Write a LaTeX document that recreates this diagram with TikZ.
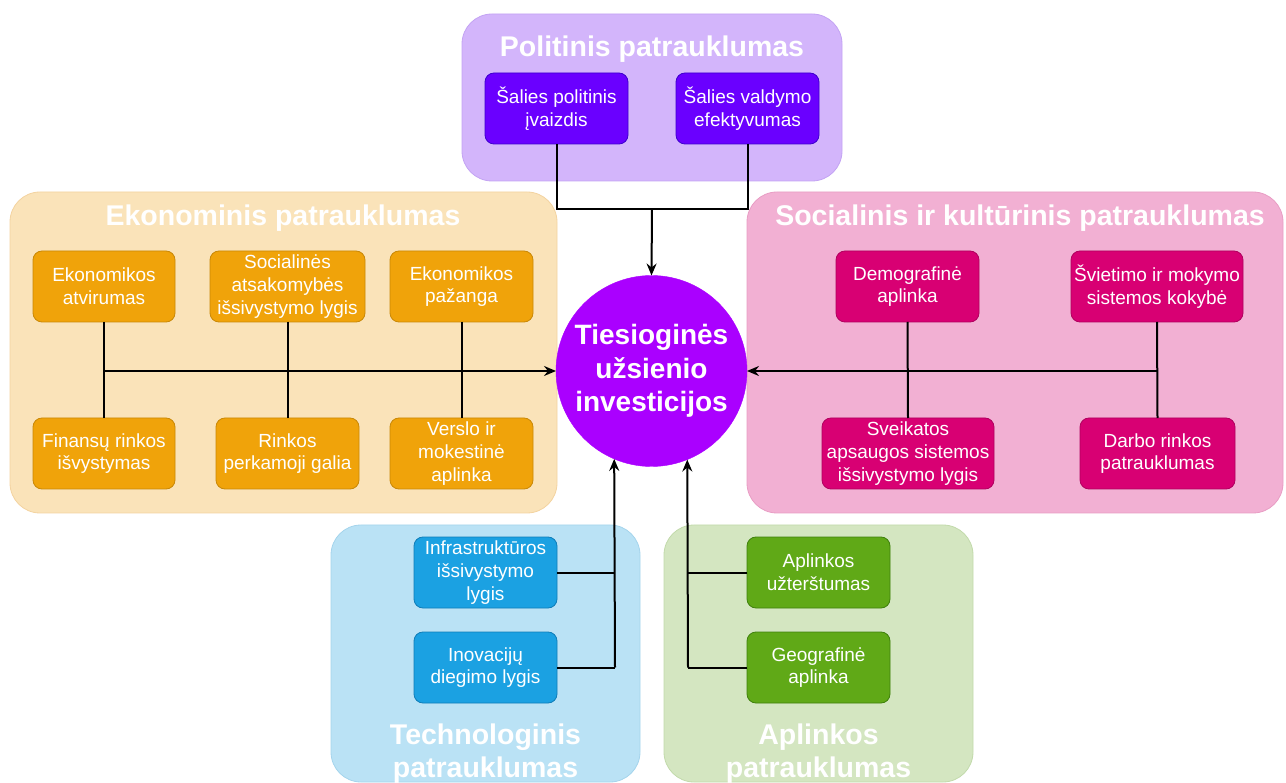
\documentclass[tikz,border=0pt]{standalone}
\usepackage{fontspec}
\setmainfont{Liberation Sans}
\usetikzlibrary{arrows.meta}
\definecolor{purC}{HTML}{D3B5FB}
\definecolor{purCd}{HTML}{C3A3F3}
\definecolor{purB}{HTML}{6A00FF}
\definecolor{purBd}{HTML}{3D00CC}
\definecolor{orC}{HTML}{FAE3B9}
\definecolor{orCd}{HTML}{F3D3A0}
\definecolor{orB}{HTML}{F0A30A}
\definecolor{orBd}{HTML}{C98806}
\definecolor{piC}{HTML}{F2B0D3}
\definecolor{piCd}{HTML}{E89DC4}
\definecolor{piB}{HTML}{D80073}
\definecolor{piBd}{HTML}{B0005E}
\definecolor{blC}{HTML}{BAE2F5}
\definecolor{blCd}{HTML}{A4D4EC}
\definecolor{blB}{HTML}{1BA1E2}
\definecolor{blBd}{HTML}{0F7DB8}
\definecolor{grC}{HTML}{D4E6C1}
\definecolor{grCd}{HTML}{C2DAAB}
\definecolor{grB}{HTML}{60A917}
\definecolor{grBd}{HTML}{3F800C}
\definecolor{circC}{HTML}{AA00FF}
\tikzset{
  container/.style={rounded corners=30pt, line width=0.8pt},
  ctitle/.style={text=white, font=\fontsize{28.5}{34}\selectfont\bfseries, inner sep=0pt, outer sep=0pt, align=center},
  sbox/.style={rectangle, rounded corners=9pt, minimum height=71pt, text=white, align=center,
    font=\fontsize{19}{22.8}\selectfont, inner sep=1pt, outer sep=0pt, line width=0.8pt},
  conn/.style={line width=2pt, black},
  arr/.style={conn, -{Stealth[length=12pt,width=10pt,inset=4pt]}}
}
\begin{document}
\begin{tikzpicture}[x=1pt,y=-1pt]
\useasboundingbox (0,0) rectangle (1286,783);
\clip (0,0) rectangle (1286,783);
% containers
\path[container, fill=purC, draw=purCd] (462,14) rectangle (842,181);
\path[container, fill=orC, draw=orCd] (10,192) rectangle (557,513);
\path[container, fill=piC, draw=piCd] (747,192) rectangle (1283,513);
\path[container, fill=blC, draw=blCd] (331,525) rectangle (640,782);
\path[container, fill=grC, draw=grCd] (664,525) rectangle (973,782);
% container titles
\node[ctitle, anchor=base] (tpol) at (652,57) {Politinis patrauklumas};
\node[ctitle, anchor=base] (teko) at (283,226) {Ekonominis patrauklumas};
\node[ctitle, anchor=base] (tsoc) at (1020,226) {Socialinis ir kultūrinis patrauklumas};
\node[ctitle, anchor=base] (ttec1) at (485.5,744) {Technologinis};
\node[ctitle, anchor=base] (ttec2) at (485.5,777) {patrauklumas};
\node[ctitle, anchor=base] (tapl1) at (818.5,744) {Aplinkos};
\node[ctitle, anchor=base] (tapl2) at (818.5,777) {patrauklumas};
% center circle
\node[circle, fill=circC, draw=circC, minimum size=191pt, inner sep=0pt, outer sep=0pt,
  text=white, align=center, font=\fontsize{28}{33.5}\selectfont\bfseries] (tfi) at (651.5,371)
  {Tiesioginės\\užsienio\\investicijos};
% political
\node[sbox, fill=purB, draw=purBd, minimum width=143pt] (b1) at (556.5,108.5) {Šalies politinis\\įvaizdis};
\node[sbox, fill=purB, draw=purBd, minimum width=143pt] (b2) at (747.5,108.5) {Šalies valdymo\\efektyvumas};
% economic
\node[sbox, fill=orB, draw=orBd, minimum width=142pt] (o1) at (104,286.5) {Ekonomikos\\atvirumas};
\node[sbox, fill=orB, draw=orBd, minimum width=155pt] (o2) at (287.5,286.5) {Socialinės\\atsakomybės\\išsivystymo lygis};
\node[sbox, fill=orB, draw=orBd, minimum width=143pt] (o3) at (461.5,286.5) {Ekonomikos\\pažanga};
\node[sbox, fill=orB, draw=orBd, minimum width=142pt] (o4) at (104,453.5) {Finansų rinkos\\išvystymas};
\node[sbox, fill=orB, draw=orBd, minimum width=143pt] (o5) at (287.5,453.5) {Rinkos\\perkamoji galia};
\node[sbox, fill=orB, draw=orBd, minimum width=143pt] (o6) at (461.5,453.5) {Verslo ir\\mokestinė\\aplinka};
% social
\node[sbox, fill=piB, draw=piBd, minimum width=143pt] (p1) at (907.5,286.5) {Demografinė\\aplinka};
\node[sbox, fill=piB, draw=piBd, minimum width=172pt] (p2) at (1157,286.5) {Švietimo ir mokymo\\sistemos kokybė};
\node[sbox, fill=piB, draw=piBd, minimum width=172pt] (p3) at (908,453.5) {Sveikatos\\apsaugos sistemos\\išsivystymo lygis};
\node[sbox, fill=piB, draw=piBd, minimum width=155pt] (p4) at (1157.5,453.5) {Darbo rinkos\\patrauklumas};
% technological
\node[sbox, fill=blB, draw=blBd, minimum width=143pt] (t1) at (485.5,572.5) {Infrastruktūros\\išsivystymo\\lygis};
\node[sbox, fill=blB, draw=blBd, minimum width=143pt] (t2) at (485.5,667.5) {Inovacijų\\diegimo lygis};
% environment
\node[sbox, fill=grB, draw=grBd, minimum width=143pt] (g1) at (818.5,572.5) {Aplinkos\\užterštumas};
\node[sbox, fill=grB, draw=grBd, minimum width=143pt] (g2) at (818.5,667.5) {Geografinė\\aplinka};
% junction coordinates
\coordinate (tj) at (652,209);
\coordinate (oj) at (104,371);
\coordinate (pj) at (1157.5,371);
\coordinate (bj) at (615,667.5);
\coordinate (gj) at (688,667.5);
% connectors: political
\draw[conn] (b1.south) |- (tj) -| (b2.south);
\draw[arr] (tj) -- (tfi.north);
% economic
\draw[conn] (o1.south) -- (o4.north);
\draw[conn] (o2.south) -- (o5.north);
\draw[conn] (o3.south) -- (o6.north);
\draw[arr] (oj) -- (tfi.west);
% social
\draw[conn] (p1.south) -- (p3.north);
\draw[conn] (p2.south) -- (p4.north);
\draw[arr] (pj) -- (tfi.east);
% technological
\draw[conn] (t2.east) -- (bj);
\draw[conn] (t1.east) -- (t1.east -| bj);
\draw[arr] (bj) -- (tfi.247.5);
% environment
\draw[conn] (g2.west) -- (gj);
\draw[conn] (g1.west) -- (g1.west -| gj);
\draw[arr] (gj) -- (tfi.292.5);
\end{tikzpicture}
\end{document}
